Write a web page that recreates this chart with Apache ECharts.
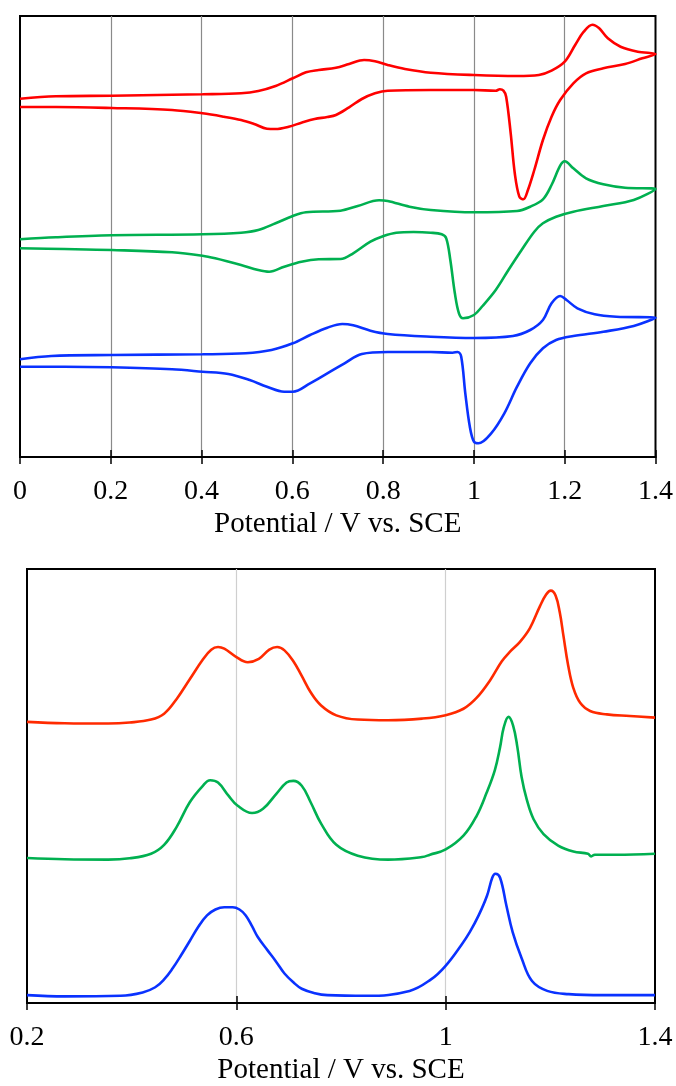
<!DOCTYPE html>
<html>
<head>
<meta charset="utf-8">
<script src="https://cdn.jsdelivr.net/npm/echarts@6/dist/echarts.min.js"></script>
<style>
html,body{margin:0;padding:0;background:#fff;}
#chart{width:676px;height:1086px;}
</style>
</head>
<body>
<div id="chart"></div>
<script>
// ---- Top panel: cyclic voltammograms (potential in V, current in arbitrary offset units) ----
const cvTicks = [0, 0.2, 0.4, 0.6, 0.8, 1, 1.2, 1.4];

const cvRedFwdX = [0,0.079,0.202,0.402,0.487,0.525,0.563,0.601,0.630,0.658,0.696,0.725,0.758,0.782,0.810,0.848,0.905,1.000,1.095,1.143,1.171,1.200,1.223,1.242,1.261,1.276,1.295,1.323,1.361,1.4];
const cvRedFwdY = [358.3,360.7,361.3,362.7,363.7,366,371,378.7,384.7,387,389.3,393,397,395.7,392,388,384.3,382,381,382,386.3,395.3,412,425.3,432.3,428.7,418.7,410.3,405.3,403];
const cvRedRevX = [1.371,1.333,1.285,1.247,1.219,1.190,1.171,1.152,1.133,1.119,1.109,1.100,1.090,1.081,1.071,1.065,1.057,1.048,1.000,0.905,0.810,0.782,0.753,0.725,0.696,0.677,0.649,0.620,0.592,0.563,0.544,0.516,0.487,0.449,0.402,0.335,0.202,0.079,0];
const cvRedRevY = [398.7,393,388.7,383.7,373.7,357,340.3,317,287,267,257.7,260.3,283.7,323.7,360.3,366.3,367.7,366.3,367,367,366.3,363.7,358,349.7,342,340,338,334.3,330.3,328,328.3,333,337,340.3,343.7,347,349,350,350];

const cvGreenFwdX = [0,0.079,0.202,0.402,0.487,0.525,0.563,0.601,0.630,0.706,0.744,0.791,0.810,0.858,0.905,1.0,1.095,1.124,1.152,1.171,1.190,1.200,1.219,1.247,1.285,1.333,1.4];
const cvGreenFwdY = [217.7,219.7,221.7,222.7,224.3,227,233.7,241,244.7,246.3,251,256.7,256,250.3,247,244.7,246,250.3,257.7,272,291.3,295.7,288.7,278.7,272.7,269.3,268];
const cvGreenRevX = [1.352,1.285,1.219,1.181,1.152,1.133,1.105,1.076,1.048,1.019,1.000,0.976,0.967,0.958,0.948,0.939,0.929,0.905,0.867,0.829,0.801,0.772,0.734,0.706,0.658,0.620,0.582,0.549,0.525,0.487,0.430,0.402,0.335,0.202,0.098,0];
const cvGreenRevY = [257,251,245.3,240.3,233.7,225.3,207,187,167,151,142,138.7,143.7,163.7,197,218.7,222.7,224.3,225,224.3,221,215.3,203.7,198,197.7,195.3,190.3,185.3,187,192,198.7,201.3,204.7,207,208,208.7];

const cvBlueFwdX = [0,0.069,0.202,0.402,0.497,0.554,0.601,0.639,0.677,0.710,0.734,0.772,0.810,0.905,1.0,1.086,1.124,1.152,1.171,1.190,1.204,1.228,1.266,1.314,1.4];
const cvBlueFwdY = [97.7,101,102,102.7,103.7,107,113.7,122,129.3,133,131.7,126.3,123,120.3,119,121,127,137,153.7,161,157,148.7,142.7,140.3,139.3];
const cvBlueRevX = [1.352,1.285,1.219,1.181,1.152,1.124,1.095,1.067,1.038,1.010,1.000,0.991,0.981,0.972,0.964,0.953,0.905,0.810,0.753,0.715,0.677,0.639,0.601,0.582,0.544,0.506,0.459,0.402,0.335,0.202,0.098,0];
const cvBlueRevY = [131,125.3,121,117,108.7,93.7,70.3,43.7,23.7,13.7,15.3,30.3,63.7,100.3,105,104.3,105,105,103,93.7,83.7,73.7,65.3,65.3,70.3,77,83,85.3,87.7,89.7,90.3,90.3];

// ---- Bottom panel: differential pulse voltammograms ----
const dpvTicks = [0.2, 0.6, 1, 1.4];

const dpvRedX = [0.2,0.272,0.355,0.396,0.437,0.462,0.486,0.511,0.536,0.552,0.565,0.577,0.598,0.622,0.643,0.663,0.678,0.692,0.709,0.725,0.742,0.762,0.791,0.832,0.890,0.955,1.0,1.034,1.059,1.085,1.107,1.123,1.142,1.161,1.180,1.192,1.201,1.210,1.218,1.225,1.234,1.244,1.257,1.276,1.308,1.352,1.4];
const dpvRedY = [285.7,284.3,284,285,288,294,309,329,349,359,361.7,360,352.3,346.3,349.7,359,361.7,358.3,347.3,332.3,315.7,302.3,292.3,288,287.3,289,292.5,299,310,328,347,357,367,381,403,415,419,414,397,373.3,343.3,320,305,296.7,293.3,291.7,290];

const dpvGreenX = [0.2,0.272,0.355,0.396,0.437,0.462,0.486,0.511,0.536,0.550,0.565,0.585,0.602,0.630,0.651,0.676,0.696,0.709,0.725,0.742,0.762,0.791,0.832,0.890,0.955,0.970,1.0,1.034,1.059,1.078,1.094,1.104,1.111,1.120,1.129,1.137,1.145,1.155,1.168,1.187,1.215,1.244,1.272,1.278,1.285,1.326,1.4];
const dpvGreenY = [147.3,146,145.7,147,151.7,160.7,179,204,220.7,226.3,224,210.7,200.7,193,197.3,212.3,224,225.7,220.7,204,182.3,160.7,149.7,145.7,148.3,150.7,156,170,190,213.3,236.7,260,280,290.7,281.7,260,230,206.7,186.7,171.7,160,154,151.7,149,150.7,150.7,151.7];

const dpvBlueX = [0.2,0.272,0.379,0.421,0.445,0.462,0.478,0.495,0.511,0.528,0.544,0.560,0.577,0.593,0.606,0.618,0.630,0.641,0.659,0.676,0.692,0.709,0.725,0.750,0.774,0.849,0.931,0.972,0.999,1.030,1.046,1.063,1.079,1.089,1.095,1.104,1.116,1.128,1.145,1.165,1.194,1.235,1.301,1.4];
const dpvBlueY = [8,6.7,7.3,10.7,16,24,35,49,63,78,89,95,97.3,97.3,95,89,78,67,54,42,30,21,14.5,10,8,7.3,12.3,24,37.3,59,72,89,109,127.3,131.3,127.3,99,72,45.7,22.3,12.3,9,8,8];

const axisTitle = 'Potential / V vs. SCE';
const colors = {cvRed:'#ff0000', cvGreen:'#00b050', cvBlue:'#0a32ff', dpvRed:'#ff2a00', dpvGreen:'#00b050', dpvBlue:'#0a32ff'};

function zip(xs, ys){ return xs.map((x,i)=>[x, ys[i]]); }
function loop(fx, fy, rx, ry){ return zip(fx, fy).concat(zip(rx, ry)); }

const FONT = "'Liberation Serif','Times New Roman',serif";
const fmt = v => String(Math.round(v*10)/10);

function mainX(gi, ticks, interval, gridColor){
  return {
    type:'value', gridIndex:gi, min:ticks[0], max:ticks[ticks.length-1], interval:interval, position:'bottom',
    name: axisTitle, nameLocation:'middle', nameGap:53,
    nameTextStyle:{fontFamily:FONT, fontSize:29, color:'#000'},
    axisLine:{show:true, onZero:false, lineStyle:{color:'#000', width:2}},
    axisTick:{show:true, inside:false, length:7, lineStyle:{color:'#000', width:1.5}},
    axisLabel:{show:true, margin:21, fontFamily:FONT, fontSize:28, color:'#000', formatter:fmt},
    splitLine:{show:true, showMinLine:false, showMaxLine:false, lineStyle:{color:gridColor, width:1.2}}
  };
}
function innerTickX(gi, ticks, interval){
  return {
    type:'value', gridIndex:gi, min:ticks[0], max:ticks[ticks.length-1], interval:interval, position:'bottom', offset:0,
    axisLine:{show:false}, axisLabel:{show:false}, splitLine:{show:false},
    axisTick:{show:true, inside:true, length:7, lineStyle:{color:'#000', width:1.5}}
  };
}
function hiddenY(gi, max){
  return {type:'value', gridIndex:gi, min:0, max:max, show:false, splitLine:{show:false}};
}
function line(data, color, xi, yi, sm){
  return {type:'line', data:data, xAxisIndex:xi, yAxisIndex:yi, showSymbol:false, smooth:sm,
    lineStyle:{color:color, width:2.6}, itemStyle:{color:color}, emphasis:{disabled:true}, z:3};
}

const chart = echarts.init(document.getElementById('chart'), null, {renderer:'canvas'});
chart.setOption({
  animation:false,
  backgroundColor:'#fff',
  grid:[
    {left:20, top:16, width:636, height:441, show:true, borderColor:'#000', borderWidth:2, containLabel:false},
    {left:27, top:569, width:628, height:441, show:true, borderColor:'#000', borderWidth:2, containLabel:false}
  ],
  xAxis:[
    mainX(0, cvTicks, 0.2, '#8a8a8a'),
    mainX(1, dpvTicks, 0.4, '#cfcfcf'),
    innerTickX(0, cvTicks, 0.2),
    innerTickX(1, dpvTicks, 0.4)
  ],
  yAxis:[hiddenY(0, 441), hiddenY(1, 441)],
  series:[
    line(loop(cvRedFwdX, cvRedFwdY, cvRedRevX, cvRedRevY), colors.cvRed, 0, 0, 0.35),
    line(loop(cvGreenFwdX, cvGreenFwdY, cvGreenRevX, cvGreenRevY), colors.cvGreen, 0, 0, 0.35),
    line(loop(cvBlueFwdX, cvBlueFwdY, cvBlueRevX, cvBlueRevY), colors.cvBlue, 0, 0, 0.35),
    line(zip(dpvRedX, dpvRedY), colors.dpvRed, 1, 1, 0.4),
    line(zip(dpvGreenX, dpvGreenY), colors.dpvGreen, 1, 1, 0.4),
    line(zip(dpvBlueX, dpvBlueY), colors.dpvBlue, 1, 1, 0.4)
  ]
});
</script>
</body>
</html>
